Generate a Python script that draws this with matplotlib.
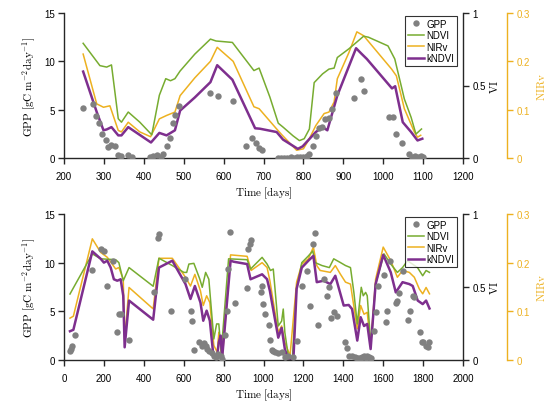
import matplotlib
matplotlib.use("Agg")
import matplotlib.pyplot as plt
from matplotlib.lines import Line2D

plt.rcParams['font.family'] = ['Liberation Sans', 'DejaVu Sans']
plt.rcParams['mathtext.fontset'] = 'cm'

# ---------------- Top panel data ----------------
top_gpp_day = [248, 272, 279, 288, 296, 305, 311, 319, 328, 336, 344, 361, 370, 416, 424, 432, 442, 449,
               457, 466, 472, 478, 488, 567, 586, 624, 656, 671, 680, 689, 697, 737, 745, 752, 760, 768,
               776, 784, 792, 800, 808, 815, 823, 831, 840, 847, 854, 863, 871, 882, 928, 945, 953, 1014,
               1024, 1033, 1047, 1064, 1071, 1079, 1086, 1094, 1100]
top_gpp = [5.16, 5.6, 4.33, 3.65, 2.5, 1.82, 1.13, 1.37, 1.24, 0.28, 0.17, 0.34, 0.1, 0.1, 0.2, 0.27, 0.1, 0.45,
           1.24, 2.06, 3.65, 4.4, 5.37, 6.77, 6.4, 5.9, 1.22, 2.02, 1.56, 1.02, 0.78, 0.0, 0.05, 0.0, 0.05, 0.1,
           0.05, 0.15, 0.1, 0.1, 0.2, 0.4, 1.25, 2.24, 3.07, 3.2, 4.0, 4.1, 5.07, 6.7, 6.2, 8.2, 6.9, 4.2,
           4.2, 2.48, 1.6, 0.45, 0.07, 0.25, 0.15, 0.2, 0.1]

top_ndvi_day = [248, 290, 307, 319, 336, 344, 361, 390, 420, 439, 455, 467, 478, 491, 528, 567, 581, 622,
                676, 689, 716, 737, 749, 774, 790, 802, 815, 827, 848, 864, 877, 885, 914, 951, 963, 1012,
                1029, 1053, 1070, 1082, 1096]
top_ndvi = [0.791, 0.637, 0.627, 0.642, 0.271, 0.247, 0.317, 0.247, 0.160, 0.433, 0.547, 0.533, 0.547, 0.600,
            0.717, 0.820, 0.807, 0.797, 0.603, 0.620, 0.420, 0.240, 0.213, 0.153, 0.120, 0.133, 0.200, 0.520,
            0.580, 0.613, 0.620, 0.693, 0.753, 0.840, 0.833, 0.773, 0.683, 0.407, 0.280, 0.165, 0.200]

top_nirv_day = [248, 282, 299, 315, 336, 344, 361, 390, 417, 439, 457, 478, 491, 528, 567, 584, 624, 676,
                689, 733, 746, 783, 800, 815, 831, 852, 864, 877, 885, 914, 934, 951, 1021, 1033, 1053,
                1078, 1086, 1094]
top_nirv = [0.215, 0.112, 0.105, 0.108, 0.057, 0.054, 0.074, 0.054, 0.044, 0.081, 0.088, 0.095, 0.129, 0.166,
            0.200, 0.229, 0.200, 0.106, 0.102, 0.060, 0.048, 0.016, 0.019, 0.040, 0.067, 0.092, 0.095, 0.116,
            0.164, 0.218, 0.261, 0.253, 0.184, 0.170, 0.102, 0.054, 0.043, 0.047]

top_kndvi_day = [248, 282, 299, 307, 319, 336, 344, 361, 418, 439, 457, 478, 491, 528, 567, 584, 622, 679,
                 691, 733, 749, 786, 798, 831, 848, 860, 885, 932, 946, 959, 1022, 1030, 1049, 1070, 1086,
                 1098]
top_kndvi = [0.596, 0.317, 0.191, 0.197, 0.213, 0.156, 0.156, 0.213, 0.107, 0.173, 0.156, 0.191, 0.327,
             0.418, 0.523, 0.640, 0.540, 0.205, 0.202, 0.179, 0.127, 0.063, 0.080, 0.179, 0.213, 0.191,
             0.431, 0.757, 0.718, 0.683, 0.480, 0.495, 0.247, 0.179, 0.121, 0.133]

# ---------------- Bottom panel data ----------------
bot_gpp_day = [30, 33, 42, 53, 142, 184, 200, 214, 247, 264, 275, 284, 326, 451, 469, 476, 537, 609, 636,
               642, 651, 679, 693, 700, 710, 718, 726, 740, 751, 760, 770, 785, 793, 806, 815, 820, 833,
               857, 915, 921, 930, 938, 985, 993, 998, 1010, 1027, 1035, 1043, 1050, 1060, 1075, 1091,
               1107, 1124, 1150, 1166, 1192, 1217, 1234, 1247, 1256, 1272, 1301, 1320, 1330, 1340, 1352,
               1368, 1411, 1419, 1431, 1444, 1460, 1470, 1480, 1487, 1495, 1504, 1512, 1520, 1530, 1537,
               1553, 1562, 1574, 1604, 1616, 1620, 1634, 1663, 1671, 1680, 1697, 1722, 1736, 1748, 1756,
               1786, 1792, 1798, 1815, 1823, 1832]
bot_gpp = [0.96, 1.13, 1.47, 2.57, 9.25, 11.4, 11.16, 7.6, 10.2, 2.84, 4.73, 4.73, 2.1, 6.95, 12.5, 12.95,
           5.07, 8.3, 5.05, 4.04, 1.06, 1.8, 1.47, 1.7, 1.47, 1.1, 0.96, 0.7, 0.45, 0.3, 0.6, 0.45, 0.1,
           2.6, 5.0, 9.3, 13.1, 5.85, 7.4, 11.4, 11.9, 12.3, 6.95, 7.57, 5.75, 4.73, 3.6, 2.1, 1.0, 0.9,
           0.8, 0.7, 0.8, 0.27, 0.45, 0.27, 2.0, 7.57, 9.18, 5.5, 11.9, 13.0, 3.6, 8.3, 6.6, 7.47, 4.28,
           4.9, 4.5, 1.88, 1.2, 0.45, 0.38, 0.3, 0.17, 0.2, 0.17, 0.3, 0.45, 0.2, 0.45, 0.3, 0.17, 3.0,
           4.9, 7.6, 8.73, 3.94, 5.07, 10.2, 5.9, 6.1, 6.88, 9.18, 4.14, 5.07, 6.6, 6.44, 2.84, 1.88,
           1.82, 1.47, 1.3, 1.82]

bot_ndvi_day = [30, 142, 184, 259, 275, 297, 326, 447, 476, 543, 601, 615, 626, 651, 681, 693, 710, 726,
                751, 765, 776, 788, 825, 918, 935, 993, 1018, 1035, 1049, 1074, 1091, 1099, 1107, 1124,
                1145, 1166, 1192, 1225, 1247, 1259, 1293, 1330, 1352, 1386, 1411, 1436, 1453, 1470, 1490,
                1500, 1512, 1520, 1537, 1545, 1562, 1604, 1638, 1671, 1697, 1722, 1772, 1798, 1815, 1832]
bot_ndvi = [0.452, 0.727, 0.693, 0.687, 0.667, 0.543, 0.633, 0.505, 0.697, 0.647, 0.600, 0.600, 0.657,
            0.662, 0.553, 0.498, 0.600, 0.553, 0.144, 0.247, 0.247, 0.053, 0.693, 0.687, 0.623, 0.703,
            0.657, 0.613, 0.623, 0.233, 0.267, 0.349, 0.189, 0.030, 0.020, 0.487, 0.667, 0.713, 0.747,
            0.667, 0.647, 0.633, 0.693, 0.667, 0.647, 0.633, 0.463, 0.247, 0.498, 0.440, 0.463, 0.440,
            0.120, 0.213, 0.520, 0.727, 0.657, 0.600, 0.633, 0.680, 0.633, 0.577, 0.613, 0.600]

bot_nirv_day = [30, 47, 142, 184, 217, 259, 275, 297, 304, 326, 447, 476, 543, 609, 634, 656, 684, 698,
                715, 731, 751, 768, 776, 793, 835, 918, 938, 993, 1018, 1032, 1074, 1091, 1107, 1133, 1166,
                1192, 1225, 1250, 1267, 1284, 1335, 1360, 1386, 1411, 1436, 1470, 1487, 1504, 1520, 1537,
                1562, 1600, 1638, 1671, 1697, 1731, 1756, 1781, 1798, 1815, 1832]
bot_nirv = [0.086, 0.090, 0.249, 0.221, 0.211, 0.187, 0.190, 0.166, 0.043, 0.149, 0.105, 0.209, 0.209,
            0.170, 0.152, 0.176, 0.142, 0.112, 0.132, 0.118, 0.030, 0.016, 0.057, 0.002, 0.216, 0.213,
            0.184, 0.200, 0.190, 0.163, 0.057, 0.070, 0.036, 0.009, 0.160, 0.197, 0.208, 0.232, 0.194,
            0.184, 0.180, 0.194, 0.176, 0.160, 0.156, 0.064, 0.112, 0.094, 0.098, 0.029, 0.166, 0.232,
            0.204, 0.170, 0.184, 0.180, 0.170, 0.146, 0.136, 0.149, 0.136]

bot_kndvi_day = [30, 47, 142, 184, 200, 217, 234, 250, 267, 284, 297, 304, 326, 447, 476, 543, 609, 634,
                 656, 684, 698, 715, 731, 748, 768, 776, 785, 793, 835, 851, 918, 935, 993, 1018, 1032,
                 1074, 1091, 1107, 1125, 1150, 1166, 1192, 1225, 1250, 1267, 1301, 1335, 1360, 1402, 1427,
                 1444, 1470, 1487, 1504, 1520, 1537, 1562, 1600, 1638, 1663, 1697, 1731, 1748, 1773, 1798,
                 1815, 1832]
bot_kndvi = [0.197, 0.207, 0.744, 0.693, 0.667, 0.680, 0.633, 0.553, 0.543, 0.553, 0.440, 0.087, 0.407,
             0.276, 0.633, 0.680, 0.520, 0.418, 0.507, 0.393, 0.269, 0.338, 0.269, 0.040, 0.030, 0.120,
             0.167, 0.020, 0.680, 0.673, 0.657, 0.553, 0.587, 0.553, 0.473, 0.153, 0.220, 0.075, 0.000,
             0.007, 0.487, 0.633, 0.680, 0.713, 0.533, 0.543, 0.520, 0.577, 0.373, 0.377, 0.349, 0.133,
             0.293, 0.233, 0.247, 0.075, 0.520, 0.720, 0.600, 0.463, 0.533, 0.520, 0.507, 0.407, 0.383,
             0.407, 0.353]

gpp_ticks = [0, 5, 10, 15]
vi_ticks = [0, 0.5, 1]
vi_labels = ['0', '0.5', '1']
nirv_ticks = [0, 0.1, 0.2, 0.3]
nirv_labels = ['0', '0.1', '0.2', '0.3']

C_GPP = '#808080'
C_NDVI = '#77AC30'
C_NIRV = '#EDB120'
C_KNDVI = '#7E2F8E'
AXC = '#262626'

W, H = 552, 402
fig = plt.figure(figsize=(W / 100, H / 100), dpi=100)


def panel(rect, xlim, xticks, gday, gval, nday, nval, rday, rval, kday, kval):
    ax = fig.add_axes(rect)
    axv = ax.twinx()
    axn = ax.twinx()
    axn.spines['right'].set_position(('axes', (507 - 64) / (463 - 64)))

    axv.plot(nday, nval, color=C_NDVI, lw=1.1, zorder=2)
    axn.plot(rday, rval, color=C_NIRV, lw=1.1, zorder=2)
    axv.plot(kday, kval, color=C_KNDVI, lw=1.8, zorder=3)
    ax.plot(gday, gval, 'o', color=C_GPP, ms=4.6, mec='none', zorder=4)

    ax.set_zorder(3)
    ax.patch.set_visible(False)
    axv.set_zorder(2)
    axn.set_zorder(1)

    ax.set_xlim(*xlim)
    ax.set_ylim(0, 15)
    axv.set_ylim(0, 1)
    axn.set_ylim(0, 0.3)

    for a in (ax, axv, axn):
        for s in a.spines.values():
            s.set_visible(False)
    ax.spines['left'].set_visible(True)
    ax.spines['bottom'].set_visible(True)
    axv.spines['right'].set_visible(True)
    axn.spines['right'].set_visible(True)
    for s in (ax.spines['left'], ax.spines['bottom'], axv.spines['right']):
        s.set_color(AXC)
        s.set_linewidth(1.0)
    axn.spines['right'].set_color(C_NIRV)
    axn.spines['right'].set_linewidth(1.0)

    ax.set_xticks(xticks)
    ax.set_xticklabels([str(t) for t in xticks])
    ax.set_yticks(gpp_ticks)
    ax.set_yticklabels([str(t) for t in gpp_ticks])
    axv.set_yticks(vi_ticks)
    axv.set_yticklabels(vi_labels)
    axn.set_yticks(nirv_ticks)
    axn.set_yticklabels(nirv_labels)

    ax.tick_params(axis='x', direction='out', length=4.2, width=1.0, color=AXC, labelsize=7, pad=5.5,
                   labelcolor='black')
    ax.tick_params(axis='y', direction='out', length=4.2, width=1.0, color=AXC, labelsize=7, pad=2.5,
                   labelcolor='black')
    axv.tick_params(axis='y', direction='out', length=4.2, width=1.0, color=AXC, labelsize=7, pad=2.5)
    axn.tick_params(axis='y', direction='out', length=4.2, width=1.0, color=C_NIRV, labelsize=7,
                    pad=2.5, labelcolor=C_NIRV)

    ax.set_xlabel(r'$\mathrm{Time\ [days]}$', fontsize=8, labelpad=2)
    ax.set_ylabel(r'$\mathrm{GPP\ [gC\ m^{-2}day^{-1}]}$', fontsize=8, labelpad=4)
    axv.set_ylabel(r'$\mathrm{VI}$', fontsize=8, rotation=90, labelpad=2)
    axn.set_ylabel(r'$\mathrm{NIRv}$', fontsize=8, rotation=90, labelpad=4, color=C_NIRV)

    handles = [
        Line2D([], [], marker='o', ls='none', color=C_GPP, ms=4.6, mec='none'),
        Line2D([], [], color=C_NDVI, lw=1.1),
        Line2D([], [], color=C_NIRV, lw=1.1),
        Line2D([], [], color=C_KNDVI, lw=1.8),
    ]
    leg = ax.legend(handles, ['GPP', 'NDVI', 'NIRv', 'kNDVI'], loc='upper right',
                    bbox_to_anchor=(0.985, 0.98), fontsize=7, frameon=True, fancybox=False,
                    handlelength=1.7, handletextpad=0.2, labelspacing=0.15, borderpad=0.3,
                    borderaxespad=0.0)
    leg.get_frame().set_edgecolor('black')
    leg.get_frame().set_linewidth(0.8)
    return ax


def rect(x0, y0, x1, y1):
    return [x0 / W, 1 - y1 / H, (x1 - x0) / W, (y1 - y0) / H]


panel(rect(64, 14, 463, 159), (200, 1200), list(range(200, 1201, 100)),
      top_gpp_day, top_gpp, top_ndvi_day, top_ndvi, top_nirv_day, top_nirv, top_kndvi_day, top_kndvi)
panel(rect(64, 215, 463, 361), (0, 2000), list(range(0, 2001, 200)),
      bot_gpp_day, bot_gpp, bot_ndvi_day, bot_ndvi, bot_nirv_day, bot_nirv, bot_kndvi_day, bot_kndvi)

fig.savefig('out.png', dpi=100)
